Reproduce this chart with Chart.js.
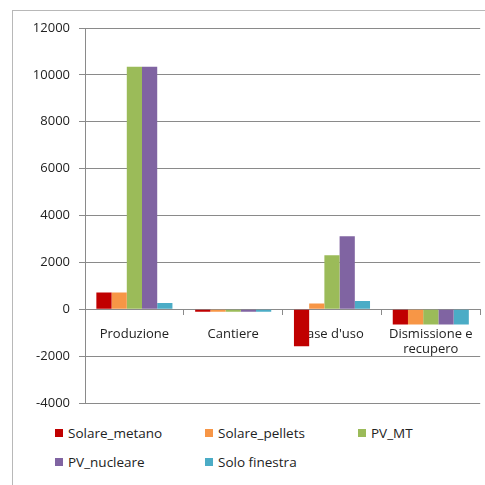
<!DOCTYPE html>
<html>
<head>
<meta charset="utf-8">
<script src="https://cdn.jsdelivr.net/npm/chart.js@4/dist/chart.umd.min.js"></script>
<style>
  body { margin: 0; background: #fff; font-family: "Open Sans", sans-serif; }
  #frame { position: absolute; left: 12px; top: 10px; width: 480px; height: 480px;
           border-left: 1px solid #b8b8b8; border-top: 1px solid #b8b8b8; }
  #wrap { position: absolute; left: 0; top: 0; width: 485px; height: 420px; }
  #legend { position: absolute; left: 0; top: 424px; width: 485px; font-size: 13.5px; color: #222; }
  .item { position: absolute; display: flex; align-items: center; height: 18px; }
  .box { width: 8px; height: 8px; margin-right: 5px; }
</style>
</head>
<body>
<div id="frame"></div>
<div id="wrap"><canvas id="chart"></canvas></div>
<div id="legend"></div>
<script>
// categories along the x axis
const categories = ['Produzione', 'Cantiere', "Fase d'uso", ['Dismissione e', 'recupero']];

// one array per series, same order as categories
const solareMetano  = [720, -110, -1580, -650];
const solarePellets = [720, -110, 250, -650];
const pvMT          = [10350, -110, 2300, -650];
const pvNucleare    = [10350, -110, 3120, -650];
const soloFinestra  = [270, -110, 350, -650];

const seriesNames  = ['Solare_metano', 'Solare_pellets', 'PV_MT', 'PV_nucleare', 'Solo finestra'];
const seriesColors = ['#C00000', '#F79646', '#9BBB59', '#8064A2', '#4BACC6'];
const seriesData   = [solareMetano, solarePellets, pvMT, pvNucleare, soloFinestra];

// y axis range
const yMin = -4000, yMax = 12000, yStep = 2000;

const ctx = document.getElementById('chart').getContext('2d');
new Chart(ctx, {
    type: 'bar',
    data: {
        labels: categories,
        datasets: seriesNames.map((name, i) => ({
            label: name,
            data: seriesData[i],
            backgroundColor: seriesColors[i],
            borderWidth: 0,
            barPercentage: 1,
            categoryPercentage: 0.77
        }))
    },
    options: {
        responsive: true,
        maintainAspectRatio: false,
        animation: false,
        layout: { padding: { top: 28, right: 3, bottom: 17, left: 0 } },
        plugins: {
            legend: { display: false },
            tooltip: { enabled: false }
        },
        scales: {
            x: {
                position: { y: 0 },
                z: 1,
                grid: {
                    drawOnChartArea: false,
                    tickLength: 5,
                    color: '#8a8a8a'
                },
                border: { color: '#8a8a8a' },
                ticks: {
                    color: '#222',
                    padding: 12,
                    font: { family: 'Open Sans', size: 13 }
                }
            },
            y: {
                min: yMin,
                max: yMax,
                afterFit: (scale) => { scale.width = 85; },
                grid: {
                    color: '#8a8a8a',
                    tickLength: 6
                },
                border: { color: '#8a8a8a' },
                ticks: {
                    stepSize: yStep,
                    color: '#222',
                    padding: 9,
                    font: { family: 'Open Sans', size: 13 },
                    callback: (v) => String(v)
                }
            }
        }
    }
});

// legend laid out in three columns like the original
const legendPos = [[55, 0], [205, 0], [358, 0], [55, 29], [205, 29]];
const legend = document.getElementById('legend');
seriesNames.forEach((name, i) => {
    const el = document.createElement('div');
    el.className = 'item';
    el.style.left = legendPos[i][0] + 'px';
    el.style.top = legendPos[i][1] + 'px';
    el.innerHTML = '<span class="box" style="background:' + seriesColors[i] + '"></span>' + name;
    legend.appendChild(el);
});
</script>
</body>
</html>
